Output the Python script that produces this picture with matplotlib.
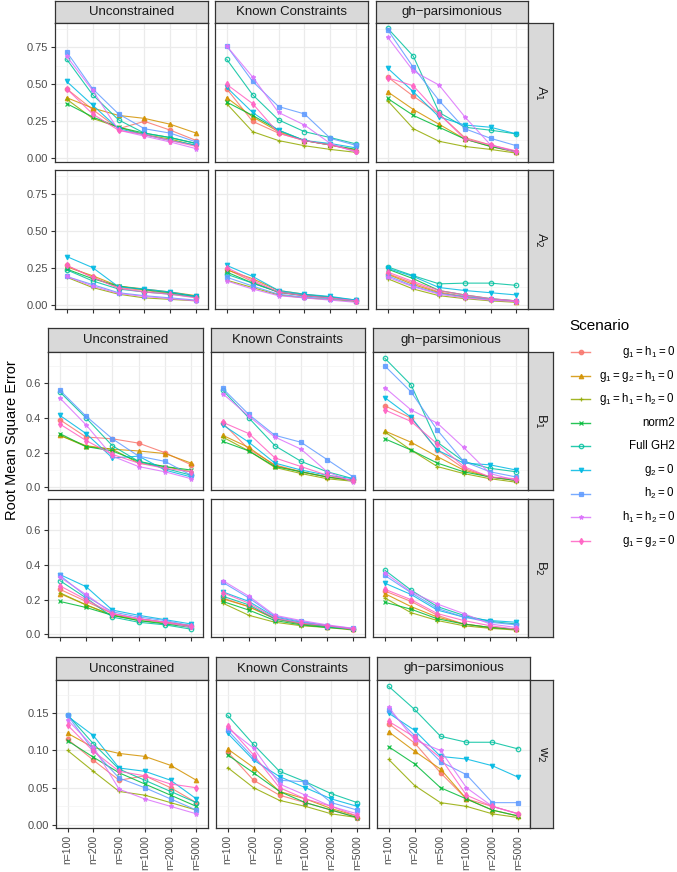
"""Facet grid of RMSE by sample size, scenario and constraint type."""
import matplotlib

matplotlib.use("Agg")

import matplotlib.pyplot as plt

plt.rcParams["font.family"] = ["Liberation Sans", "DejaVu Sans"]

SIZES = ["n=100", "n=200", "n=500", "n=1000", "n=2000", "n=5000"]
METHODS = ["Unconstrained", "Known Constraints", "gh\u2212parsimonious"]
SCENARIOS = [
    r"$\mathregular{g_1 = h_1 = 0}$",
    r"$\mathregular{g_1 = g_2 = h_1 = 0}$",
    r"$\mathregular{g_1 = h_1 = h_2 = 0}$",
    "norm2",
    "Full GH2",
    r"$\mathregular{g_2 = 0}$",
    r"$\mathregular{h_2 = 0}$",
    r"$\mathregular{h_1 = h_2 = 0}$",
    r"$\mathregular{g_1 = g_2 = 0}$",
]
COLORS = ["#F8766D", "#D39200", "#93AA00", "#00BA38", "#00C19F",
          "#00B9E3", "#619CFF", "#DB72FB", "#FF61C3"]
MARKERS = ["o", "^", "+", "x", "o", "v", "s", "*", "d"]

# rows follow SCENARIOS order, columns follow SIZES
A1_UNC = [[.47, .33, .20, .25, .19, .12], [.41, .34, .29, .27, .23, .17],
          [.40, .27, .21, .16, .13, .085], [.37, .28, .21, .17, .14, .10],
          [.67, .43, .26, .17, .14, .10], [.52, .36, .20, .16, .12, .09],
          [.72, .47, .30, .20, .17, .11], [.69, .46, .19, .15, .11, .065],
          [.47, .30, .19, .16, .12, .08]]
A1_KC = [[.47, .25, .17, .12, .09, .05], [.41, .28, .18, .12, .09, .055],
         [.37, .18, .12, .085, .06, .04], [.38, .29, .19, .12, .09, .06],
         [.67, .43, .26, .18, .14, .097], [.48, .31, .19, .12, .10, .07],
         [.76, .52, .35, .30, .135, .087], [.76, .55, .31, .225, .10, .04],
         [.50, .37, .17, .12, .09, .05]]
A1_GH = [[.55, .42, .30, .14, .09, .045], [.45, .33, .23, .13, .08, .04],
         [.39, .20, .115, .08, .06, .035], [.405, .29, .21, .13, .08, .045],
         [.88, .69, .31, .21, .19, .165], [.61, .45, .28, .225, .21, .165],
         [.87, .615, .39, .20, .135, .085], [.82, .59, .495, .28, .09, .04],
         [.545, .49, .30, .13, .09, .05]]
A2_UNC = [[.27, .19, .12, .10, .08, .06], [.26, .20, .13, .11, .09, .065],
          [.19, .12, .075, .05, .04, .03], [.245, .18, .13, .105, .085, .06],
          [.24, .165, .11, .09, .075, .055], [.33, .255, .125, .11, .09, .06],
          [.195, .14, .085, .065, .05, .035], [.195, .13, .08, .06, .045, .03],
          [.27, .19, .115, .09, .075, .05]]
A2_KC = [[.245, .16, .085, .065, .05, .03], [.24, .18, .10, .075, .055, .03],
         [.17, .12, .07, .05, .04, .025], [.225, .15, .09, .065, .05, .03],
         [.21, .15, .09, .07, .055, .035], [.27, .195, .10, .075, .06, .035],
         [.19, .13, .075, .055, .045, .03], [.165, .11, .065, .05, .035, .02],
         [.255, .17, .09, .065, .05, .03]]
A2_GH = [[.215, .15, .09, .06, .04, .03], [.21, .14, .085, .055, .04, .025],
         [.18, .11, .065, .045, .03, .02], [.245, .18, .10, .07, .045, .03],
         [.26, .20, .145, .15, .15, .135], [.25, .195, .12, .10, .085, .07],
         [.20, .13, .08, .06, .04, .03], [.19, .125, .075, .05, .035, .025],
         [.225, .16, .10, .07, .045, .03]]
B1_UNC = [[.39, .29, .28, .255, .20, .13], [.30, .24, .22, .21, .195, .14],
          [.30, .235, .22, .14, .12, .09], [.31, .235, .21, .15, .12, .10],
          [.55, .40, .24, .15, .11, .07], [.415, .31, .17, .18, .10, .06],
          [.56, .41, .28, .18, .15, .07], [.515, .36, .18, .12, .09, .05],
          [.365, .27, .19, .14, .11, .09]]
B1_KC = [[.37, .22, .13, .09, .06, .04], [.30, .23, .125, .09, .06, .04],
         [.29, .21, .115, .08, .05, .035], [.265, .21, .12, .09, .06, .04],
         [.56, .40, .24, .15, .09, .05], [.36, .26, .14, .10, .07, .05],
         [.57, .42, .30, .26, .16, .06], [.54, .41, .29, .22, .09, .03],
         [.375, .31, .17, .12, .07, .04]]
B1_GH = [[.47, .40, .215, .11, .06, .04], [.325, .26, .177, .10, .06, .04],
         [.32, .215, .12, .08, .05, .03], [.28, .215, .14, .09, .06, .04],
         [.744, .59, .26, .15, .11, .09], [.517, .404, .215, .14, .13, .10],
         [.70, .55, .33, .15, .09, .06], [.575, .446, .37, .23, .08, .04],
         [.446, .38, .25, .12, .06, .05]]
B2_UNC = [[.26, .19, .12, .09, .07, .05], [.235, .17, .11, .09, .07, .05],
          [.24, .17, .11, .08, .065, .045], [.19, .155, .11, .08, .06, .04],
          [.31, .21, .10, .07, .055, .03], [.345, .275, .14, .11, .085, .06],
          [.34, .22, .13, .10, .08, .05], [.33, .23, .12, .09, .07, .04],
          [.28, .20, .12, .09, .07, .05]]
B2_KC = [[.21, .16, .09, .06, .045, .03], [.205, .16, .09, .06, .045, .03],
         [.18, .11, .07, .05, .04, .025], [.19, .14, .08, .055, .04, .03],
         [.22, .17, .09, .065, .045, .03], [.245, .19, .10, .07, .05, .03],
         [.30, .21, .105, .075, .05, .035], [.31, .22, .11, .08, .055, .035],
         [.24, .18, .095, .065, .05, .03]]
B2_GH = [[.25, .19, .11, .06, .04, .03], [.235, .16, .10, .06, .04, .03],
         [.21, .125, .08, .05, .035, .025], [.185, .145, .09, .06, .04, .03],
         [.37, .255, .16, .11, .075, .06], [.295, .23, .14, .10, .08, .07],
         [.34, .24, .15, .10, .07, .055], [.355, .245, .175, .12, .06, .04],
         [.26, .20, .12, .08, .05, .03]]
W2_UNC = [[.115, .087, .06, .066, .05, .03], [.123, .104, .096, .092, .08, .06],
          [.10, .072, .045, .04, .03, .02], [.113, .091, .07, .055, .04, .025],
          [.148, .109, .075, .06, .045, .03], [.146, .12, .0765, .072, .06, .035],
          [.147, .10, .063, .05, .035, .02], [.141, .105, .048, .035, .025, .015],
          [.134, .099, .072, .066, .055, .05]]
W2_KC = [[.098, .06, .04, .03, .02, .01], [.102, .077, .045, .035, .022, .012],
         [.077, .05, .033, .025, .015, .01], [.094, .07, .045, .03, .02, .01],
         [.147, .108, .072, .058, .042, .03], [.123, .087, .065, .05, .035, .025],
         [.127, .09, .06, .058, .03, .02], [.13, .103, .055, .04, .025, .015],
         [.133, .094, .05, .035, .025, .012]]
W2_GH = [[.136, .11, .07, .035, .025, .015], [.125, .099, .075, .035, .02, .012],
         [.088, .053, .03, .025, .015, .01], [.105, .082, .05, .035, .02, .012],
         [.186, .155, .119, .111, .111, .102], [.15, .127, .092, .0885, .0795, .064],
         [.154, .12, .085, .0675, .03, .03], [.158, .114, .10, .05, .025, .015],
         [.139, .118, .09, .04, .025, .015]]

W, H = 677, 872
fig = plt.figure(figsize=(W / 100, H / 100), dpi=100)
EDGE = "#333333"
STRIP = "#D9D9D9"


def px_axes(x0, y0, x1, y1):
    return fig.add_axes([x0 / W, 1 - y1 / H, (x1 - x0) / W, (y1 - y0) / H])


def strip(x0, y0, x1, y1, text, vertical=False):
    ax = px_axes(x0, y0, x1, y1)
    ax.set_xticks([])
    ax.set_yticks([])
    ax.set_facecolor(STRIP)
    for s in ax.spines.values():
        s.set_color(EDGE)
        s.set_linewidth(0.9)
    ax.text(0.5, 0.5, text, transform=ax.transAxes, ha="center", va="center",
            fontsize=9.5, color="#1A1A1A", rotation=-90 if vertical else 0)


def panel(box, data, ylim, yticks, ylabels, show_y, show_x, show_xlabels):
    ax = px_axes(*box)
    ax.set_facecolor("white")
    for i, vals in enumerate(data):
        ax.plot(range(len(SIZES)), vals, color=COLORS[i], lw=0.8, alpha=0.85,
                marker=MARKERS[i], ms=3.2, mew=0.9,
                mfc="none" if i == 4 else COLORS[i], zorder=3)
    ax.set_xlim(-0.45, len(SIZES) - 0.55)
    ax.set_ylim(*ylim)
    ax.set_xticks(range(len(SIZES)))
    ax.set_yticks(yticks)
    minor = [(a + b) / 2 for a, b in zip(yticks[:-1], yticks[1:])]
    minor.append(yticks[-1] + (yticks[1] - yticks[0]) / 2)
    ax.set_yticks(minor, minor=True)
    ax.grid(True, which="major", color="#EBEBEB", lw=0.9, zorder=0)
    ax.grid(True, which="minor", axis="y", color="#F3F3F3", lw=0.5, zorder=0)
    ax.set_axisbelow(True)
    for s in ax.spines.values():
        s.set_color(EDGE)
        s.set_linewidth(0.9)
    ax.tick_params(which="minor", length=0)
    ax.tick_params(which="major", length=3, width=0.8, color=EDGE,
                   labelsize=8, labelcolor="#4D4D4D", pad=2)
    if show_y:
        ax.set_yticklabels(ylabels)
    else:
        ax.tick_params(axis="y", length=0, labelleft=False)
    if show_x:
        if show_xlabels:
            ax.set_xticklabels(SIZES, rotation=90, fontsize=7.5)
        else:
            ax.set_xticklabels([])
    else:
        ax.tick_params(axis="x", length=0, labelbottom=False)
    return ax


groups = [
    {
        "cols": [(55, 208), (215, 368), (376, 528)],
        "strip_y": (1, 23),
        "rows": [(23, 162, "A$_1$", [A1_UNC, A1_KC, A1_GH]),
                 (170, 309, "A$_2$", [A2_UNC, A2_KC, A2_GH])],
        "ylim": (-0.025, 0.915),
        "yticks": [0.0, 0.25, 0.5, 0.75],
        "ylabels": ["0.00", "0.25", "0.50", "0.75"],
        "xlabels": False,
    },
    {
        "cols": [(48, 203), (211, 365), (373, 528)],
        "strip_y": (328, 352),
        "rows": [(352, 490, "B$_1$", [B1_UNC, B1_KC, B1_GH]),
                 (499, 637, "B$_2$", [B2_UNC, B2_KC, B2_GH])],
        "ylim": (-0.015, 0.78),
        "yticks": [0.0, 0.2, 0.4, 0.6],
        "ylabels": ["0.0", "0.2", "0.4", "0.6"],
        "xlabels": False,
    },
    {
        "cols": [(56, 208), (216, 369), (377, 530)],
        "strip_y": (657, 680),
        "rows": [(680, 828, "w$_2$", [W2_UNC, W2_KC, W2_GH])],
        "ylim": (-0.004, 0.1945),
        "yticks": [0.0, 0.05, 0.10, 0.15],
        "ylabels": ["0.00", "0.05", "0.10", "0.15"],
        "xlabels": True,
    },
]

for g in groups:
    sy0, sy1 = g["strip_y"]
    for (cx0, cx1), name in zip(g["cols"], METHODS):
        strip(cx0, sy0, cx1, sy1, name)
    for r, (ry0, ry1, rlabel, panels) in enumerate(g["rows"]):
        last = r == len(g["rows"]) - 1
        for c, ((cx0, cx1), data) in enumerate(zip(g["cols"], panels)):
            panel((cx0, ry0, cx1, ry1), data, g["ylim"], g["yticks"],
                  g["ylabels"], c == 0, last, g["xlabels"])
        strip(g["cols"][-1][1], ry0, 553, ry1, rlabel, vertical=True)

fig.text(12 / W, 1 - 440 / H, "Root Mean Square Error", rotation=90,
         ha="center", va="center", fontsize=10.5, color="black")

# legend drawn by hand so the labels can be right aligned like ggplot's
leg = fig.add_axes([0, 0, 1, 1])
leg.set_xlim(0, W)
leg.set_ylim(H, 0)
leg.axis("off")
leg.text(569, 326, "Scenario", fontsize=11, ha="left", va="center")
for i, label in enumerate(SCENARIOS):
    y = 352 + i * 23.6
    leg.plot([571, 580.5, 590], [y, y, y], color=COLORS[i], lw=1.0, alpha=0.85,
             marker=MARKERS[i], ms=3.2, mew=0.9, markevery=[1],
             mfc="none" if i == 4 else COLORS[i])
    leg.text(675, y, label, fontsize=8.3, ha="right", va="center")

fig.savefig("out.png", dpi=100)
